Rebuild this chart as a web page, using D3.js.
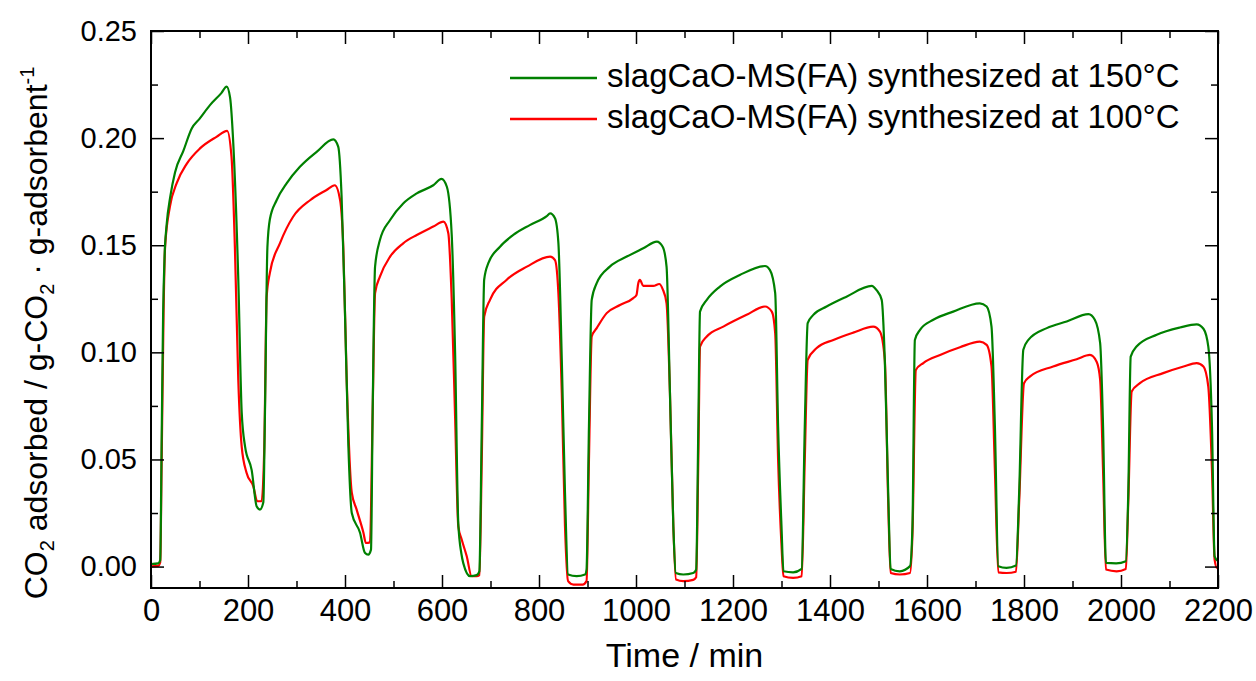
<!DOCTYPE html>
<html>
<head>
<meta charset="utf-8">
<script src="https://cdn.jsdelivr.net/npm/d3@7"></script>
<style>
  html, body { margin: 0; padding: 0; background: #fff; overflow: hidden; }
  svg { display: block; }
  text { font-family: "Liberation Sans", Arial, sans-serif; fill: #000; }
</style>
</head>
<body>
<div id="plot"></div>
<script>
// chart size and plot box
const w = 1256;
const h = 681;
const margin = {top: 31, right: 38, bottom: 93, left: 151};
const innerWidth = w - margin.left - margin.right;
const innerHeight = h - margin.top - margin.bottom;

// data: [time (min), CO2 adsorbed (g/g)]
const green150 = [[0,0.0012],[15,0.0015],[19,0.003],[22,0.06],[25,0.118],[28,0.145],[32,0.159],[40,0.173],[49.5,0.184],[66.7,0.194],[84,0.2045],[100,0.209],[121.6,0.2154],[145,0.221],[156,0.224],[163,0.219],[170,0.196],[180,0.134],[187,0.072],[194,0.056],[207.6,0.045],[218,0.028],[224.7,0.0266],[231.6,0.030],[235,0.072],[240,0.149],[245,0.162],[259,0.171],[280,0.179],[307,0.1866],[341.6,0.1936],[376,0.1994],[386,0.196],[393,0.1726],[400,0.118],[407,0.056],[414,0.025],[431,0.0158],[441,0.0065],[448,0.0056],[453.6,0.0079],[457,0.072],[462,0.14],[472,0.1524],[493,0.1618],[520,0.1695],[548,0.1742],[582,0.178],[599,0.181],[610,0.1773],[620,0.155],[627,0.1],[633.6,0.02],[640,0.006],[644,0.0015],[658,-0.0045],[671.5,-0.004],[677,-0.0022],[682,0.0654],[687,0.134],[695.5,0.1416],[719.6,0.1493],[747,0.1548],[781,0.1594],[816,0.1636],[823,0.1649],[833,0.1626],[840,0.151],[847,0.0965],[853.6,0.0345],[860,-0.0037],[877.7,-0.0045],[895,-0.0037],[898,-0.0014],[903,0.0654],[908.7,0.1245],[919,0.1323],[946,0.14],[981,0.1447],[1015,0.1486],[1043,0.1517],[1055,0.1493],[1063,0.14],[1070,0.081],[1077,0.0188],[1082,-0.003],[1097.5,-0.0037],[1118,-0.003],[1124,-0.0015],[1128.5,0.0654],[1132,0.119],[1146,0.1245],[1173,0.1307],[1214,0.1361],[1266,0.1403],[1276,0.1385],[1287,0.1276],[1293,0.0654],[1300,0.0188],[1304,-0.0022],[1324,-0.0027],[1341.6,-0.0011],[1348,0.0654],[1354,0.1136],[1365.6,0.1175],[1393,0.1214],[1434,0.126],[1486,0.131],[1496,0.129],[1506.6,0.1245],[1513,0.0965],[1520,0.0345],[1525,-0.0011],[1544,-0.0022],[1565,0.0002],[1570,0.0188],[1575,0.1058],[1585.6,0.1105],[1613,0.1152],[1654,0.119],[1709,0.1229],[1723,0.1214],[1733,0.112],[1740,0.0654],[1747,0.0002],[1764,-0.0006],[1783.5,0.0005],[1790,0.0344],[1798.6,0.1012],[1809,0.1058],[1847,0.1113],[1888,0.1144],[1933,0.1178],[1946,0.1152],[1957,0.1043],[1963,0.0654],[1969,0.0017],[1990,0.0015],[2010,0.0025],[2015,0.0344],[2020,0.098],[2032,0.1027],[2073.6,0.1082],[2121.6,0.1116],[2156,0.1131],[2170,0.111],[2180,0.1027],[2187.6,0.0654],[2193,0.0048],[2200,0.0025]];

const red100 = [[0,0.0001],[15,0.0003],[19,0.002],[22,0.05],[26,0.12],[29,0.149],[39,0.168],[53,0.179],[73.6,0.188],[101,0.1952],[135,0.2006],[157,0.2034],[166,0.1913],[173,0.149],[180,0.087],[187,0.056],[197,0.0438],[211,0.0374],[219,0.0305],[228,0.0305],[233.6,0.056],[238.5,0.126],[245,0.137],[266,0.151],[293,0.1633],[328,0.171],[362,0.1758],[379,0.178],[390,0.171],[396.5,0.149],[403.5,0.087],[414,0.0345],[424,0.0266],[438,0.0158],[443,0.011],[451.5,0.0113],[457,0.072],[462,0.1277],[472,0.1353],[493,0.1447],[520,0.1509],[548,0.1548],[582,0.1587],[603,0.161],[613,0.1556],[620,0.125],[627,0.07],[633.6,0.0188],[640.6,0.0126],[651,0.0048],[661,-0.0045],[671.5,-0.0045],[677,-0.004],[682,0.05],[687,0.1167],[699,0.1245],[733,0.1338],[775,0.14],[823,0.1447],[833,0.1431],[840,0.1276],[847,0.081],[853.6,0.0188],[860,-0.0068],[871,-0.0084],[890,-0.0084],[898,-0.0068],[903,0.05],[908.7,0.1074],[919,0.1113],[939.6,0.1183],[967,0.1221],[994.4,0.1253],[1001,0.1268],[1004.7,0.1323],[1008,0.1338],[1015,0.131],[1035.7,0.131],[1048,0.1319],[1055,0.1295],[1063,0.1229],[1070,0.081],[1077,0.0188],[1082.5,-0.006],[1097.5,-0.0068],[1118,-0.0062],[1124,-0.005],[1128.5,0.05],[1132,0.1027],[1146,0.1074],[1180,0.112],[1228,0.1175],[1266,0.1214],[1280,0.119],[1287,0.109],[1293,0.05],[1300,0.01],[1304,-0.0045],[1324,-0.0053],[1341.6,-0.0045],[1348,0.05],[1354,0.0965],[1372.6,0.102],[1407,0.1058],[1448,0.1092],[1489,0.112],[1503,0.1097],[1513,0.0965],[1520,0.03],[1525,-0.003],[1544,-0.0037],[1565,-0.003],[1570,0.015],[1577,0.0918],[1592.4,0.095],[1627,0.0988],[1668,0.1024],[1709,0.105],[1723,0.1035],[1733,0.0934],[1740,0.045],[1747,-0.0027],[1764,-0.003],[1783.5,-0.0024],[1790,0.03],[1800,0.0856],[1812,0.0887],[1860,0.0934],[1908.6,0.0968],[1936,0.0988],[1950,0.0955],[1957,0.0872],[1963,0.045],[1969,-0.0014],[1991,-0.0022],[2010,-0.0011],[2015,0.03],[2022,0.0817],[2039,0.0856],[2087,0.0903],[2129,0.0934],[2156,0.095],[2170,0.0934],[2180,0.084],[2187.6,0.045],[2193,0.0033],[2198,-0.0006],[2200,-0.0006]];

const seriesNames = ["slagCaO-MS(FA) synthesized at 150°C", "slagCaO-MS(FA) synthesized at 100°C"];
const seriesColors = ["#008000", "#ff0000"];

// ticks
const xMajor = [0, 200, 400, 600, 800, 1000, 1200, 1400, 1600, 1800, 2000, 2200];
const xMinor = [100, 300, 500, 700, 900, 1100, 1300, 1500, 1700, 1900, 2100];
const yMajor = [0, 0.05, 0.10, 0.15, 0.20, 0.25];
const yMinor = [0.025, 0.075, 0.125, 0.175, 0.225];

const svg = d3.select("#plot")
  .append("svg")
    .attr("width", w)
    .attr("height", h);

svg.append("rect")
    .attr("width", w)
    .attr("height", h)
    .attr("fill", "#fff");

const xScale = d3.scaleLinear()
    .domain([0, 2200])
    .range([0, innerWidth]);

const yScale = d3.scaleLinear()
    .domain([-0.01, 0.25])
    .range([innerHeight, 0]);

const g = svg.append("g")
    .attr("transform", `translate(${margin.left}, ${margin.top})`);

g.append("clipPath")
    .attr("id", "clip")
  .append("rect")
    .attr("width", innerWidth)
    .attr("height", innerHeight);

// lines
const line = d3.line()
    .x(d => xScale(d[0]))
    .y(d => yScale(d[1]))
    .curve(d3.curveMonotoneX);

const curves = g.append("g").attr("clip-path", "url(#clip)");

curves.append("path")
    .datum(red100)
    .attr("d", line)
    .attr("fill", "none")
    .attr("stroke", seriesColors[1])
    .attr("stroke-width", 2.2)
    .attr("stroke-linejoin", "round");

curves.append("path")
    .datum(green150)
    .attr("d", line)
    .attr("fill", "none")
    .attr("stroke", seriesColors[0])
    .attr("stroke-width", 2.2)
    .attr("stroke-linejoin", "round");

// axes, ticks pointing inwards
function styleAxis(sel) {
  sel.attr("font-family", "Liberation Sans, Arial, sans-serif");
  sel.select(".domain").remove();
  sel.selectAll(".tick line").attr("stroke", "#000").attr("stroke-width", 1.5);
  sel.selectAll(".tick text").attr("fill", "#000");
}

// tick marks only, no labels
function bareAxis(sel) {
  styleAxis(sel);
  sel.selectAll(".tick text").remove();
}

g.append("g")
    .attr("transform", `translate(0, ${innerHeight})`)
    .call(d3.axisBottom(xScale).tickValues(xMajor).tickSize(-13).tickSizeOuter(0).tickPadding(11).tickFormat(d3.format("d")))
    .call(styleAxis)
    .attr("font-size", 31);

g.append("g")
    .attr("transform", `translate(0, ${innerHeight})`)
    .call(d3.axisBottom(xScale).tickValues(xMinor).tickSize(-7))
    .call(bareAxis);

g.append("g")
    .call(d3.axisTop(xScale).tickValues(xMajor).tickSize(-13))
    .call(bareAxis);

g.append("g")
    .call(d3.axisTop(xScale).tickValues(xMinor).tickSize(-7))
    .call(bareAxis);

g.append("g")
    .call(d3.axisLeft(yScale).tickValues(yMajor).tickSize(-13).tickPadding(14).tickFormat(d3.format(".2f")))
    .call(styleAxis)
    .attr("font-size", 29);

g.append("g")
    .call(d3.axisLeft(yScale).tickValues(yMinor).tickSize(-7))
    .call(bareAxis);

g.append("g")
    .attr("transform", `translate(${innerWidth}, 0)`)
    .call(d3.axisRight(yScale).tickValues(yMajor).tickSize(-13))
    .call(bareAxis);

g.append("g")
    .attr("transform", `translate(${innerWidth}, 0)`)
    .call(d3.axisRight(yScale).tickValues(yMinor).tickSize(-7))
    .call(bareAxis);

// frame
g.append("rect")
    .attr("width", innerWidth)
    .attr("height", innerHeight)
    .attr("fill", "none")
    .attr("stroke", "#000")
    .attr("stroke-width", 2);

// axis titles
svg.append("text")
    .attr("x", margin.left + innerWidth / 2)
    .attr("y", 667)
    .attr("text-anchor", "middle")
    .attr("font-size", 34)
    .text("Time / min");

const yTitle = svg.append("text")
    .attr("transform", "translate(47, 333) rotate(-90)")
    .attr("text-anchor", "middle")
    .attr("font-size", 32);
yTitle.append("tspan").text("CO");
yTitle.append("tspan").attr("font-size", 20).attr("dy", 7).text("2");
yTitle.append("tspan").attr("dy", -7).text(" adsorbed / g-CO");
yTitle.append("tspan").attr("font-size", 20).attr("dy", 7).text("2");
yTitle.append("tspan").attr("dy", -7).text(" · g-adsorbent");
yTitle.append("tspan").attr("font-size", 20).attr("dy", -13).text("-1");

// legend
const legend = svg.append("g");
const legendY = [78, 119];
seriesNames.forEach((name, i) => {
  legend.append("line")
      .attr("x1", 510).attr("x2", 597)
      .attr("y1", legendY[i]).attr("y2", legendY[i])
      .attr("stroke", seriesColors[i])
      .attr("stroke-width", 2.5);
  legend.append("text")
      .attr("x", 607)
      .attr("y", legendY[i] + 9)
      .attr("font-size", 33)
      .text(name);
});
</script>
</body>
</html>
